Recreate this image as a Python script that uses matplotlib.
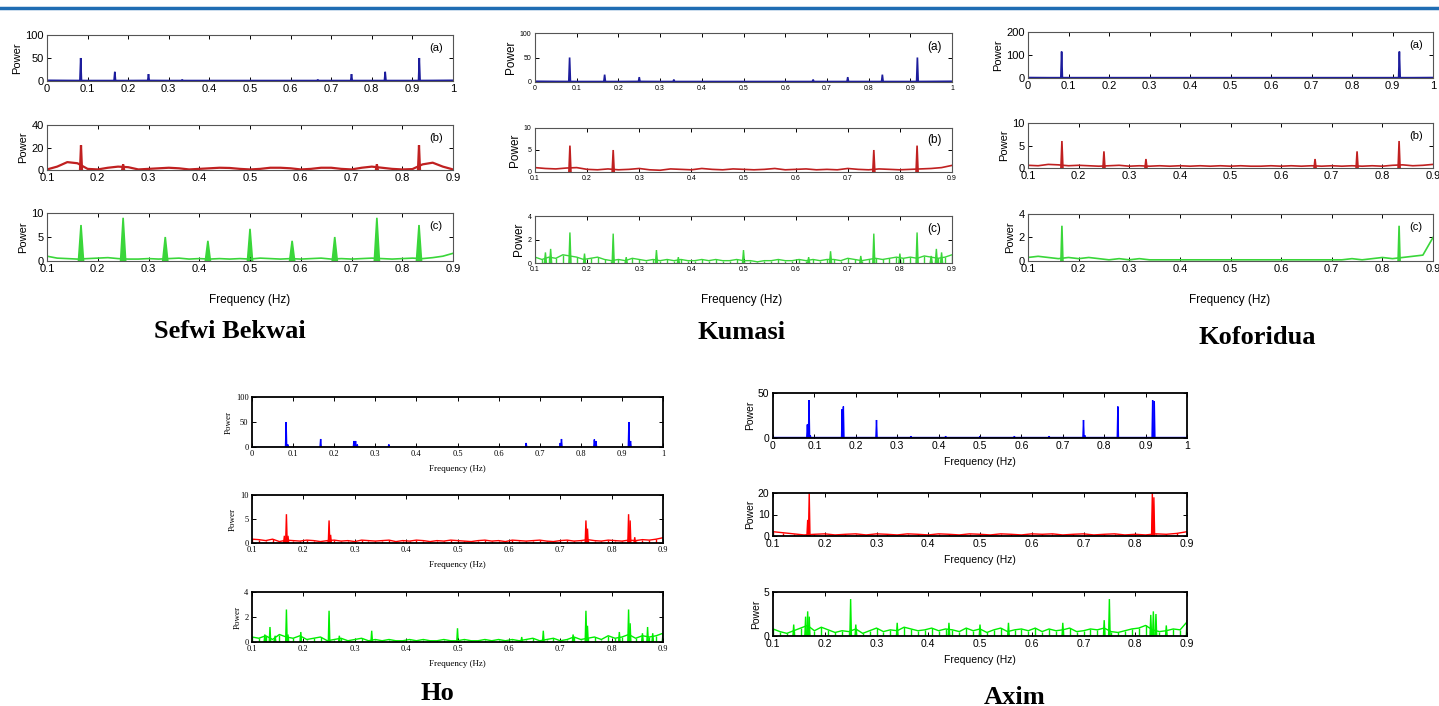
import numpy as np
import matplotlib.pyplot as plt

W, H = 1439, 706

# tick values and labels
xt_full = [0, 0.1, 0.2, 0.3, 0.4, 0.5, 0.6, 0.7, 0.8, 0.9, 1]
xt_full_lab = ['0', '0.1', '0.2', '0.3', '0.4', '0.5', '0.6', '0.7', '0.8', '0.9', '1']
xt_mid = [0.1, 0.2, 0.3, 0.4, 0.5, 0.6, 0.7, 0.8, 0.9]
xt_mid_lab = ['0.1', '0.2', '0.3', '0.4', '0.5', '0.6', '0.7', '0.8', '0.9']

# ---------------- Sefwi Bekwai ----------------
sefwi_a_f = [0.083, 0.167, 0.25, 0.333, 0.667, 0.75, 0.833, 0.917]
sefwi_a_h = [50, 20, 15, 3, 3, 15, 20, 50]
sefwi_a_base = [1.5, 1.2, 1, 1, 1, 1.2, 1, 1, 1, 1, 1, 1, 1, 1, 1, 1, 1, 1, 1, 1.2, 1.5]

sefwi_b_f = [0.167, 0.25, 0.75, 0.833]
sefwi_b_h = [22, 5, 5, 22]
sefwi_b_base = [0.5, 3, 7, 6, 1, 0.5, 2, 3, 2.5, 0.5, 1, 1.5, 2, 1.5, 0.5, 1, 1.5, 2, 1.8, 1,
                0.5, 1, 2, 2, 1.5, 0.5, 1, 2, 2, 1, 0.5, 2, 3, 2, 1, 0.5, 0.8, 5, 6.5, 3, 0.5]

sefwi_c_f = [0.167, 0.25, 0.333, 0.417, 0.5, 0.583, 0.667, 0.75, 0.833]
sefwi_c_h = [7.5, 9, 5, 4.2, 6.7, 4.2, 5, 9, 7.5]
sefwi_c_base = [1.0, 0.6, 0.5, 0.4, 0.5, 0.6, 0.7, 0.5, 0.4, 0.4, 0.5, 0.4, 0.5, 0.6, 0.4, 0.5,
                0.4, 0.5, 0.4, 0.5, 0.4, 0.6, 0.5, 0.4, 0.5, 0.4, 0.5, 0.6, 0.4, 0.5, 0.4, 0.5,
                0.6, 0.5, 0.4, 0.5, 0.6, 0.5, 0.7, 1.0, 1.6]

# ---------------- Kumasi ----------------
kumasi_a_f = [0.083, 0.167, 0.25, 0.333, 0.667, 0.75, 0.833, 0.917]
kumasi_a_h = [50, 15, 10, 5, 5, 10, 15, 50]
kumasi_a_base = [1.5, 1.2, 1, 1, 1, 1.2, 1, 1, 1, 1, 1, 1, 1, 1, 1, 1, 1, 1, 1, 1.2, 1.5]

kumasi_b_f = [0.167, 0.25, 0.75, 0.833]
kumasi_b_h = [6, 5, 5, 6]
kumasi_b_base = [1.0, 0.8, 0.7, 0.9, 1.0, 0.6, 0.5, 0.7, 0.5, 0.6, 0.8, 0.5, 0.4, 0.7, 0.6, 0.5,
                 0.8, 0.6, 0.5, 0.7, 0.6, 0.5, 0.6, 0.8, 0.5, 0.6, 0.7, 0.5, 0.6, 0.5, 0.8, 0.6,
                 0.5, 0.7, 0.6, 0.5, 0.6, 0.7, 0.8, 1.0, 1.5]

kumasi_c_f = [0.12, 0.13, 0.167, 0.195, 0.25, 0.275, 0.333, 0.375, 0.5, 0.625, 0.667, 0.725,
              0.75, 0.8, 0.833, 0.86, 0.87, 0.88]
kumasi_c_h = [0.9, 1.2, 2.6, 0.8, 2.5, 0.5, 1.1, 0.5, 1.1, 0.5, 1.0, 0.6, 2.5, 0.8, 2.6, 0.6, 1.2, 0.9]
kumasi_c_base = [0.5, 0.3, 0.5, 0.4, 0.7, 0.6, 0.5, 0.3, 0.4, 0.5, 0.3, 0.2, 0.3, 0.2, 0.4, 0.3,
                 0.2, 0.3, 0.2, 0.3, 0.2, 0.3, 0.2, 0.2, 0.3, 0.2, 0.3, 0.2, 0.2, 0.3, 0.2, 0.2,
                 0.1, 0.2, 0.2, 0.3, 0.2, 0.2, 0.3, 0.2, 0.3, 0.2, 0.3, 0.3, 0.2, 0.4, 0.3, 0.2,
                 0.3, 0.4, 0.3, 0.4, 0.5, 0.4, 0.5, 0.4, 0.6, 0.5, 0.4, 0.5, 0.7]

# ---------------- Koforidua ----------------
kof_a_f = [0.083, 0.917]
kof_a_h = [115, 115]
kof_a_base = [2, 1.5, 1.5, 1.5, 1.5, 1.5, 1.5, 1.5, 1.5, 1.5, 1.5, 1.5, 1.5, 1.5, 1.5, 1.5,
              1.5, 1.5, 1.5, 1.5, 2]

kof_b_f = [0.167, 0.25, 0.333, 0.667, 0.75, 0.833]
kof_b_h = [6, 3.7, 2, 2, 3.7, 6]
kof_b_base = [0.6, 0.5, 0.8, 0.7, 0.5, 0.6, 0.5, 0.4, 0.5, 0.6, 0.4, 0.5, 0.4, 0.5, 0.4, 0.5,
              0.4, 0.5, 0.4, 0.5, 0.4, 0.5, 0.4, 0.4, 0.5, 0.4, 0.5, 0.4, 0.5, 0.4, 0.5, 0.4,
              0.5, 0.4, 0.5, 0.4, 0.6, 0.7, 0.5, 0.6, 0.8]

kof_c_f = [0.167, 0.833]
kof_c_h = [3.0, 3.0]
kof_c_base = [0.3, 0.4, 0.3, 0.2, 0.3, 0.2, 0.3, 0.2, 0.1, 0.2, 0.1, 0.2, 0.1, 0.1, 0.1, 0.1,
              0.1, 0.1, 0.1, 0.1, 0.1, 0.1, 0.1, 0.1, 0.1, 0.1, 0.1, 0.1, 0.1, 0.1, 0.1, 0.1,
              0.2, 0.1, 0.2, 0.3, 0.2, 0.3, 0.4, 0.5, 2.0]

# ---------------- Ho ----------------
ho_a_f = [0.083, 0.087, 0.167, 0.248, 0.252, 0.256, 0.333, 0.667, 0.75, 0.753, 0.833, 0.837,
          0.917, 0.921]
ho_a_h = [50, 5, 16, 12, 12, 5, 5, 8, 8, 16, 15, 12, 50, 12]
ho_a_base = [0.5] * 21

ho_b_f = [0.163, 0.167, 0.17, 0.25, 0.253, 0.75, 0.753, 0.833, 0.836, 0.845]
ho_b_h = [1.5, 6, 1.5, 4.7, 1.7, 4.7, 3, 6, 4.7, 1.2]
ho_b_base = [0.8, 0.7, 0.5, 0.8, 0.3, 0.6, 0.5, 0.4, 0.6, 0.5, 0.3, 0.5, 0.6, 0.4, 0.5, 0.3,
             0.6, 0.5, 0.4, 0.5, 0.6, 0.3, 0.5, 0.4, 0.6, 0.5, 0.3, 0.5, 0.4, 0.6, 0.5, 0.4,
             0.3, 0.5, 0.6, 0.4, 0.5, 0.3, 0.6, 0.5, 0.4, 0.5, 0.6, 0.4, 0.3, 0.5, 0.6, 0.4,
             0.5, 0.7, 0.5, 0.4, 0.6, 0.5, 0.4, 0.6, 0.5, 0.7, 0.6, 0.8, 1.1]

ho_c_f = [0.125, 0.135, 0.145, 0.167, 0.17, 0.195, 0.25, 0.27, 0.333, 0.5, 0.625, 0.667, 0.725,
          0.75, 0.753, 0.815, 0.833, 0.836, 0.86, 0.87, 0.88, 0.9]
ho_c_h = [0.6, 1.2, 0.5, 2.6, 0.6, 0.8, 2.5, 0.5, 0.9, 1.1, 0.4, 0.9, 0.6, 2.5, 1.3, 0.8, 2.6,
          1.5, 0.7, 1.2, 0.7, 0.7]
ho_c_base = [0.4, 0.3, 0.5, 0.2, 0.6, 0.4, 0.3, 0.5, 0.2, 0.3, 0.4, 0.1, 0.2, 0.3, 0.1, 0.2,
             0.3, 0.1, 0.2, 0.1, 0.2, 0.1, 0.1, 0.2, 0.1, 0.2, 0.1, 0.1, 0.2, 0.1, 0.1, 0.2,
             0.1, 0.1, 0.2, 0.1, 0.2, 0.1, 0.2, 0.1, 0.2, 0.3, 0.1, 0.2, 0.3, 0.1, 0.2, 0.4,
             0.2, 0.3, 0.4, 0.2, 0.5, 0.3, 0.4, 0.6, 0.3, 0.5, 0.4, 0.5, 0.7]

# ---------------- Axim ----------------
axim_a_f = [0.083, 0.087, 0.09, 0.167, 0.17, 0.25, 0.333, 0.417, 0.5, 0.583, 0.667, 0.75, 0.753,
            0.833, 0.917, 0.921]
axim_a_h = [15, 42, 3, 32, 35, 20, 2, 2, 2, 2, 2, 20, 3, 35, 42, 41]
axim_a_base = [0.8] * 21

axim_b_f = [0.167, 0.17, 0.833, 0.836]
axim_b_h = [7.5, 20, 20, 18]
axim_b_base = [2, 1.5, 1, 0.5, 0.8, 1, 0.5, 0.8, 1, 0.5, 1, 0.8, 0.5, 1, 0.8, 0.5, 1, 0.8, 0.5, 1,
               0.8, 0.5, 1, 0.8, 0.5, 1, 0.8, 1, 0.5, 0.8, 1, 0.5, 0.8, 1, 0.5, 0.8, 0.5, 1, 0.8,
               1.2, 2]

axim_c_f = [0.14, 0.163, 0.167, 0.17, 0.25, 0.26, 0.34, 0.44, 0.5, 0.555, 0.66, 0.74, 0.75,
            0.83, 0.835, 0.84, 0.86, 0.9]
axim_c_h = [1.3, 2.2, 2.8, 2.2, 4.2, 1.3, 1.5, 1.5, 1.3, 1.5, 1.5, 1.8, 4.2, 2.4, 2.8, 2.5, 1.2, 1.8]
axim_c_base = [0.8, 0.5, 0.3, 0.6, 0.9, 1.2, 0.6, 1.0, 0.7, 0.4, 0.6, 0.5, 0.8, 0.3, 0.6, 0.9,
               0.5, 0.7, 0.6, 1.0, 0.8, 0.6, 0.7, 0.9, 0.6, 0.8, 0.7, 0.5, 0.9, 0.6, 0.8, 0.4,
               0.7, 0.9, 0.5, 0.7, 0.8, 0.6, 0.9, 0.5, 0.8, 0.6, 0.7, 0.9, 0.5, 0.6, 0.8, 0.7,
               0.9, 0.5, 0.4, 0.6, 0.8, 0.9, 1.2, 0.7, 0.5, 0.6, 0.8, 0.7, 1.6]

fig = plt.figure(figsize=(W / 100, H / 100), dpi=100)

# blue rule at the top of the page
fig.add_artist(plt.Line2D([0, 1], [1 - 8 / H, 1 - 8 / H], color='#1f6db3', lw=2.5))


def panel(box, full, ylim, yticks, base, pf, ph, color, w, tag=None, fs=8, lfs=8, sans=True,
          spine='#555555', slw=0.8, xlabel=False, lw=1.2, stems=False, xlpad=1):
    l, r, t, b = box
    ax = fig.add_axes([l / W, 1 - b / H, (r - l) / W, (b - t) / H])
    fam = 'Liberation Sans' if sans else 'Liberation Serif'
    lo, hi = (0, 1) if full else (0.1, 0.9)
    x = np.linspace(lo, hi, len(base))
    ax.plot(x, base, color=color, lw=lw)
    if stems:
        ax.vlines(x, 0, base, color=color, lw=lw)
    for f, h in zip(pf, ph):
        ax.fill([f - w, f, f + w], [0, h, 0], color=color, lw=lw)
    ax.set_xlim(lo, hi)
    ax.set_ylim(*ylim)
    if full:
        ax.set_xticks(xt_full)
        ax.set_xticklabels(xt_full_lab, family=fam, fontsize=fs)
    else:
        ax.set_xticks(xt_mid)
        ax.set_xticklabels(xt_mid_lab, family=fam, fontsize=fs)
    ax.set_yticks(yticks)
    ax.set_yticklabels([str(v) for v in yticks], family=fam, fontsize=fs)
    ax.tick_params(direction='in', top=True, right=True, length=3, width=0.7)
    ax.tick_params(axis='x', pad=2.5)
    ax.tick_params(axis='y', pad=2.5)
    for s in ax.spines.values():
        s.set_color(spine)
        s.set_linewidth(slw)
    ax.set_ylabel('Power', family=fam, fontsize=lfs, labelpad=2)
    if tag:
        ax.text(0.975, 0.72, tag, transform=ax.transAxes, ha='right', va='center',
                family=fam, fontsize=lfs)
    if xlabel:
        ax.set_xlabel('Frequency (Hz)', family=fam, fontsize=lfs, labelpad=xlpad)
    return ax


navy = '#1c1c9c'
dred = '#c02020'
lgreen = '#3ad63a'

# Sefwi Bekwai
panel((47, 453, 35, 81), True, (0, 100), [0, 50, 100], sefwi_a_base, sefwi_a_f, sefwi_a_h, navy, 0.002, '(a)')
panel((47, 453, 125, 170), False, (0, 40), [0, 20, 40], sefwi_b_base, sefwi_b_f, sefwi_b_h, dred, 0.002, '(b)', lw=1.6)
panel((47, 453, 213, 261), False, (0, 10), [0, 5, 10], sefwi_c_base, sefwi_c_f, sefwi_c_h, lgreen, 0.005, '(c)')

# Kumasi
panel((535, 952, 33, 82), True, (0, 100), [0, 50, 100], kumasi_a_base, kumasi_a_f, kumasi_a_h, navy, 0.002, '(a)',
      fs=5, lfs=8.5)
panel((535, 952, 128, 172), False, (0, 10), [0, 5, 10], kumasi_b_base, kumasi_b_f, kumasi_b_h, dred, 0.002, '(b)',
      fs=5, lfs=8.5)
panel((535, 952, 216, 263), False, (0, 4), [0, 2, 4], kumasi_c_base, kumasi_c_f, kumasi_c_h, lgreen, 0.002, '(c)',
      fs=5, lfs=8.5, stems=True, lw=1.0)

# Koforidua
panel((1028, 1433, 32, 78), True, (0, 200), [0, 100, 200], kof_a_base, kof_a_f, kof_a_h, navy, 0.002, '(a)')
panel((1028, 1433, 123, 168), False, (0, 10), [0, 5, 10], kof_b_base, kof_b_f, kof_b_h, dred, 0.002, '(b)')
panel((1028, 1433, 214, 261), False, (0, 4), [0, 2, 4], kof_c_base, kof_c_f, kof_c_h, lgreen, 0.002, '(c)')

# Ho
ho_style = dict(fs=6, lfs=6.5, sans=False, spine='black', slw=1.3, xlabel=True, lw=1.0, xlpad=5)
panel((252, 663, 397, 447), True, (0, 100), [0, 50, 100], ho_a_base, ho_a_f, ho_a_h, '#0000ff', 0.0015, **ho_style)
panel((252, 663, 495, 543), False, (0, 10), [0, 5, 10], ho_b_base, ho_b_f, ho_b_h, '#ff0000', 0.0015,
      stems=True, **ho_style)
panel((252, 663, 592, 642), False, (0, 4), [0, 2, 4], ho_c_base, ho_c_f, ho_c_h, '#00ee00', 0.0015,
      stems=True, **ho_style)

# Axim
axim_style = dict(fs=7.5, lfs=7.5, spine='black', slw=1.3, xlabel=True, lw=1.0, xlpad=4)
panel((773, 1187, 393, 438), True, (0, 50), [0, 50], axim_a_base, axim_a_f, axim_a_h, '#0000ff', 0.0015,
      **axim_style)
panel((773, 1187, 493, 536), False, (0, 20), [0, 10, 20], axim_b_base, axim_b_f, axim_b_h, '#ff0000', 0.0015,
      stems=True, **axim_style)
panel((773, 1187, 592, 636), False, (0, 5), [0, 5], axim_c_base, axim_c_f, axim_c_h, '#00ee00', 0.0015,
      stems=True, **axim_style)

# shared x labels of the top row
for xc in [250, 742, 1230]:
    fig.text(xc / W, 1 - 300 / H, 'Frequency (Hz)', ha='center', va='center',
             family='Liberation Sans', fontsize=8.5)

# station names
names = ['Sefwi Bekwai', 'Kumasi', 'Koforidua', 'Ho', 'Axim']
name_xy = [(230, 332), (742, 333), (1257, 337), (437, 693), (1015, 697)]
for nm, (xc, yc) in zip(names, name_xy):
    fig.text(xc / W, 1 - yc / H, nm, ha='center', va='center',
             family='Liberation Serif', fontweight='bold', fontsize=19)

plt.savefig('out.png', dpi=100)
